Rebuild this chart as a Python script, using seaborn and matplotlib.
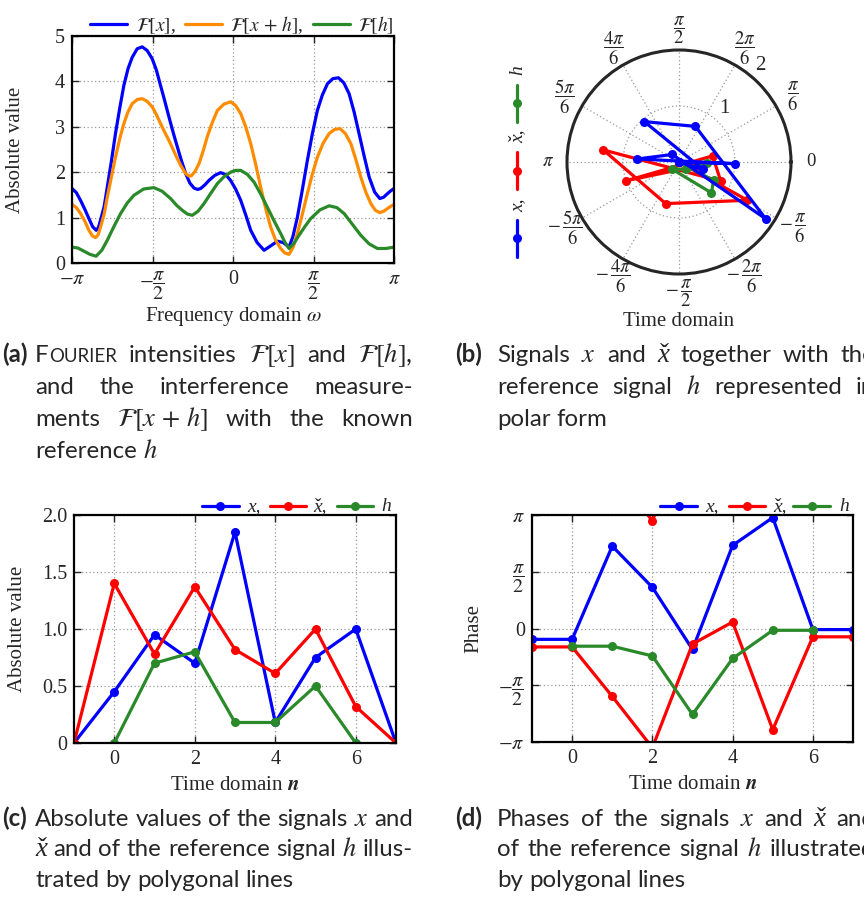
import numpy as np
import matplotlib
matplotlib.use("Agg")
import matplotlib.pyplot as plt
import seaborn as sns
from matplotlib.lines import Line2D

sns.set_style("ticks")
plt.rcParams["font.family"] = ["Liberation Serif", "DejaVu Serif"]
plt.rcParams["mathtext.fontset"] = "stix"

# ---------------- data ----------------
# (a) Fourier intensities, frequency given as multiples of pi
omega_x_pi = [-1.0, -0.973, -0.947, -0.92, -0.895, -0.872, -0.850, -0.836, -0.823, -0.80,
              -0.781, -0.755, -0.730, -0.704, -0.678, -0.652, -0.626, -0.595, -0.564, -0.533,
              -0.502, -0.476, -0.450, -0.424, -0.398, -0.372, -0.346, -0.320, -0.294, -0.268,
              -0.242, -0.220, -0.201, -0.175, -0.149, -0.113, -0.077, -0.046, -0.015, 0.016,
              0.048, 0.079, 0.110, 0.150, 0.193, 0.235, 0.276, 0.312, 0.348, 0.372,
              0.400, 0.431, 0.462, 0.493, 0.524, 0.555, 0.587, 0.620, 0.655, 0.688,
              0.721, 0.752, 0.783, 0.815, 0.846, 0.880, 0.912, 0.936, 0.960, 0.980, 1.0]
F_x = [1.64, 1.55, 1.38, 1.18, 0.98, 0.80, 0.72, 0.78, 0.94, 1.25,
       1.67, 2.25, 2.85, 3.40, 3.91, 4.28, 4.53, 4.72, 4.76, 4.68,
       4.50, 4.25, 3.91, 3.57, 3.22, 2.88, 2.56, 2.25, 1.97, 1.76,
       1.65, 1.62, 1.64, 1.72, 1.82, 1.93, 1.99, 1.95, 1.82, 1.63,
       1.38, 1.06, 0.72, 0.45, 0.28, 0.38, 0.48, 0.45, 0.35, 0.58,
       1.01, 1.62, 2.26, 2.85, 3.36, 3.70, 3.95, 4.06, 4.08, 3.97,
       3.73, 3.33, 2.85, 2.35, 1.89, 1.56, 1.42, 1.45, 1.53, 1.59, 1.64]
omega_xh_pi = [-1.0, -0.973, -0.947, -0.92, -0.895, -0.874, -0.854, -0.838, -0.823, -0.80,
               -0.781, -0.755, -0.730, -0.704, -0.678, -0.652, -0.626, -0.595, -0.564, -0.533,
               -0.502, -0.476, -0.450, -0.424, -0.398, -0.372, -0.346, -0.320, -0.294, -0.276,
               -0.259, -0.235, -0.211, -0.185, -0.160, -0.128, -0.097, -0.056, -0.015, 0.016,
               0.048, 0.079, 0.110, 0.141, 0.172, 0.203, 0.234, 0.265, 0.296, 0.322,
               0.348, 0.374, 0.400, 0.431, 0.462, 0.493, 0.524, 0.560, 0.597, 0.630,
               0.665, 0.698, 0.732, 0.763, 0.794, 0.825, 0.856, 0.884, 0.912, 0.936,
               0.960, 0.980, 1.0]
F_xh = [1.29, 1.22, 1.09, 0.92, 0.72, 0.60, 0.56, 0.62, 0.79, 1.08,
        1.45, 1.90, 2.33, 2.73, 3.07, 3.33, 3.51, 3.60, 3.62, 3.56,
        3.44, 3.27, 3.07, 2.88, 2.70, 2.50, 2.30, 2.12, 1.97, 1.92,
        1.92, 2.02, 2.19, 2.47, 2.78, 3.10, 3.36, 3.50, 3.55, 3.47,
        3.29, 3.00, 2.63, 2.17, 1.67, 1.20, 0.79, 0.50, 0.32, 0.22,
        0.19, 0.35, 0.65, 1.08, 1.53, 1.96, 2.33, 2.64, 2.85, 2.94,
        2.96, 2.85, 2.63, 2.28, 1.89, 1.56, 1.31, 1.16, 1.11, 1.14,
        1.20, 1.25, 1.29]
omega_h_pi = [-1.0, -0.963, -0.926, -0.888, -0.850, -0.815, -0.781, -0.740, -0.698, -0.657,
              -0.616, -0.555, -0.491, -0.440, -0.388, -0.350, -0.315, -0.284, -0.253, -0.217,
              -0.180, -0.139, -0.097, -0.056, -0.015, 0.016, 0.048, 0.090, 0.131, 0.172,
              0.213, 0.255, 0.296, 0.322, 0.348, 0.378, 0.410, 0.446, 0.483, 0.540,
              0.597, 0.645, 0.690, 0.742, 0.794, 0.846, 0.897, 0.950, 1.0]
F_h = [0.35, 0.33, 0.26, 0.19, 0.15, 0.28, 0.50, 0.80, 1.09, 1.32,
       1.49, 1.63, 1.66, 1.58, 1.42, 1.27, 1.16, 1.08, 1.05, 1.14,
       1.31, 1.53, 1.75, 1.90, 2.00, 2.04, 2.04, 1.95, 1.78, 1.52,
       1.23, 0.93, 0.65, 0.46, 0.32, 0.43, 0.61, 0.80, 0.98, 1.17,
       1.26, 1.22, 1.09, 0.85, 0.61, 0.42, 0.32, 0.32, 0.35]

# time-domain signals
n_x = [-1, 0, 1, 2, 3, 4, 5, 6, 7]
abs_x = [0.0, 0.45, 0.95, 0.70, 1.85, 0.18, 0.75, 1.00, 0.0]
abs_xc = [0.0, 1.40, 0.78, 1.37, 0.82, 0.61, 1.00, 0.32, 0.0]
phase_x = [-0.30, -0.30, 2.28, 1.14, -0.58, 2.30, 3.07, -0.03, -0.03]
phase_xc = [-0.51, -0.51, -1.88, -3.30, -0.43, 0.18, -2.80, -0.23, -0.23]
n_h = [0, 1, 2, 3, 4, 5, 6]
abs_h = [0.0, 0.70, 0.80, 0.18, 0.18, 0.50, 0.0]
phase_h = [-0.49, -0.49, -0.76, -2.38, -0.83, -0.05, -0.05]

legend_labels_a = [r"$\mathcal{F}[x]$,", r"$\mathcal{F}[x\,+\,h]$,", r"$\mathcal{F}[h]$"]
# (text, has caron over the x)
legend_labels_sig = [("x,", False), ("x,", True), ("h", False)]
pi_ticks_lin = [r"$-\pi$", r"$-\dfrac{\pi}{2}$", "0", r"$\dfrac{\pi}{2}$", r"$\pi$"]
polar_tick_labels = ["0", r"$\dfrac{\pi}{6}$", r"$\dfrac{2\pi}{6}$", r"$\dfrac{\pi}{2}$",
                     r"$\dfrac{4\pi}{6}$", r"$\dfrac{5\pi}{6}$", r"$\pi$", r"$-\,\dfrac{5\pi}{6}$",
                     r"$-\,\dfrac{4\pi}{6}$", r"$-\,\dfrac{\pi}{2}$", r"$-\,\dfrac{2\pi}{6}$",
                     r"$-\,\dfrac{\pi}{6}$"]

BLUE = "#0000ff"
RED = "#ff0000"
ORANGE = "#ff8c00"
GREEN = "#2a8a2a"
SIG_COLORS = [BLUE, RED, GREEN]

W, H = 864, 900
fig = plt.figure(figsize=(W / 100, H / 100), dpi=100)
fig.patch.set_facecolor("white")
renderer = fig.canvas.get_renderer()


def ax_rect(l, t, r, b):
    return [l / W, 1 - b / H, (r - l) / W, (b - t) / H]


def fx(px):
    return px / W


def fy(py):
    return 1 - py / H


FS = 15
TFS = 14.5
LW = 2.3
MS = 6.5
GRID = dict(color="#9a9a9a", linestyle=(0, (1, 2)), linewidth=0.9)
SERIF = ["Liberation Serif", "DejaVu Serif"]
CARON = "\u02c7"


def text_width(s, **kw):
    t = fig.text(0, 0, s, **kw)
    w = t.get_window_extent(renderer).width
    t.remove()
    return w


def sig_label(x_px, yb_px, s, caron, fs=14, rotation=0):
    """italic serif label anchored at its left baseline (start of text)"""
    kw = dict(family=SERIF, style="italic", fontsize=fs)
    fig.text(fx(x_px), fy(yb_px), s, ha="left", va="baseline", rotation=rotation,
             rotation_mode="anchor", **kw)
    if caron:
        wx = text_width("x", **kw)
        if rotation == 0:
            cx, cy = x_px + 0.6 * wx, yb_px
        else:
            cx, cy = x_px, yb_px - 0.6 * wx
        fig.text(fx(cx), fy(cy), CARON, ha="center", va="baseline", rotation=rotation,
                 rotation_mode="anchor", family=SERIF, fontsize=fs)


def style_cart(ax):
    ax.grid(True, **GRID)
    ax.tick_params(direction="in", length=5, width=1.0, top=True, right=True,
                   labelsize=TFS, pad=5)
    for s in ax.spines.values():
        s.set_linewidth(1.6)
        s.set_color("black")


def manual_legend(y_px, line_x, text_x):
    for col, (x0, x1), tx, (lab, car) in zip(SIG_COLORS, line_x, text_x, legend_labels_sig):
        fig.add_artist(Line2D([fx(x0), fx(x1)], [fy(y_px), fy(y_px)], transform=fig.transFigure,
                              color=col, linewidth=LW))
        fig.add_artist(Line2D([fx((x0 + x1) / 2)], [fy(y_px)], transform=fig.transFigure,
                              color=col, marker="o", markersize=MS, markeredgewidth=0,
                              linestyle="none"))
        sig_label(tx, y_px + 5, lab, car)


# ---------------- (a) ----------------
ax_a = fig.add_axes(ax_rect(72, 36, 394, 263))
for om, F, col, lab in [(omega_x_pi, F_x, BLUE, legend_labels_a[0]),
                        (omega_xh_pi, F_xh, ORANGE, legend_labels_a[1]),
                        (omega_h_pi, F_h, GREEN, legend_labels_a[2])]:
    sns.lineplot(x=np.array(om) * np.pi, y=F, ax=ax_a, color=col, linewidth=LW,
                 estimator=None, sort=False, label=lab)
ax_a.set_xlim(-np.pi, np.pi)
ax_a.set_ylim(0, 5)
ax_a.set_xticks([-np.pi, -np.pi / 2, 0, np.pi / 2, np.pi])
ax_a.set_xticklabels(pi_ticks_lin)
ax_a.set_yticks(range(6))
style_cart(ax_a)
ax_a.set_xlabel(r"Frequency domain $\omega$", fontsize=FS)
ax_a.set_ylabel("Absolute value", fontsize=FS)
ax_a.xaxis.set_label_coords(0.5, -0.185)
ax_a.yaxis.set_label_coords(-0.146, 0.5)
ax_a.legend(loc="lower right", bbox_to_anchor=(1.0, 1.0), ncol=3, frameon=False,
            handlelength=1.9, columnspacing=0.45, handletextpad=0.45,
            borderaxespad=0.0, borderpad=0.0, fontsize=14)

# ---------------- (c) ----------------
ax_c = fig.add_axes(ax_rect(74, 515, 396, 743))
mk = dict(marker="o", markersize=MS, markeredgewidth=0, linewidth=LW, estimator=None,
          sort=False, legend=False)
sns.lineplot(x=n_x, y=abs_x, ax=ax_c, color=BLUE, **mk)
sns.lineplot(x=n_x, y=abs_xc, ax=ax_c, color=RED, **mk)
sns.lineplot(x=n_h, y=abs_h, ax=ax_c, color=GREEN, **mk)
ax_c.set_xlim(-1, 7)
ax_c.set_ylim(0, 2)
ax_c.set_xticks([0, 2, 4, 6])
ax_c.set_yticks([0, 0.5, 1.0, 1.5, 2.0])
ax_c.set_yticklabels(["0", "0.5", "1.0", "1.5", "2.0"])
style_cart(ax_c)
ax_c.set_xlabel(r"Time domain $\mathbfit{n}$", fontsize=FS)
ax_c.set_ylabel("Absolute value", fontsize=FS)
ax_c.xaxis.set_label_coords(0.5, -0.145)
ax_c.yaxis.set_label_coords(-0.146, 0.5)
manual_legend(506, [(202, 239), (270, 306), (337, 373)], [247, 313, 381])

# ---------------- (d) ----------------
ax_d = fig.add_axes(ax_rect(532, 515, 853, 742))
sns.lineplot(x=n_x, y=phase_x, ax=ax_d, color=BLUE, **mk)
sns.lineplot(x=n_x, y=phase_xc, ax=ax_d, color=RED, **mk)
sns.lineplot(x=n_x, y=np.array(phase_xc) + 2 * np.pi, ax=ax_d, color=RED, **mk)
sns.lineplot(x=n_h, y=phase_h, ax=ax_d, color=GREEN, **mk)
ax_d.set_xlim(-1, 7)
ax_d.set_ylim(-np.pi, np.pi)
ax_d.set_xticks([0, 2, 4, 6])
ax_d.set_yticks([-np.pi, -np.pi / 2, 0, np.pi / 2, np.pi])
ax_d.set_yticklabels(pi_ticks_lin)
style_cart(ax_d)
ax_d.set_xlabel(r"Time domain $\mathbfit{n}$", fontsize=FS)
ax_d.set_ylabel("Phase", fontsize=FS)
ax_d.xaxis.set_label_coords(0.5, -0.145)
ax_d.yaxis.set_label_coords(-0.153, 0.5)
manual_legend(506, [(660, 697), (729, 765), (793, 830)], [705, 773, 839])

# ---------------- (b) polar ----------------
ax_b = fig.add_axes(ax_rect(567, 50, 791, 274), projection="polar")
pk = dict(marker="o", markersize=MS, markeredgewidth=0, linewidth=LW)
ax_b.plot(phase_xc, abs_xc, color=RED, **pk)
ax_b.plot(phase_h, abs_h, color=GREEN, **pk)
ax_b.plot(phase_x, abs_x, color=BLUE, **pk)
ax_b.set_ylim(0, 2)
ax_b.set_yticks([1])
ax_b.set_yticklabels([])
ax_b.set_xticks(np.deg2rad(np.arange(0, 360, 30)))
ax_b.set_xticklabels(polar_tick_labels, fontsize=13.5)
ax_b.grid(True, **GRID)
ax_b.spines["polar"].set_linewidth(2.2)
ax_b.tick_params(axis="x", direction="inout", length=10, width=1.4, color="black", pad=2)
ax_b.text(np.deg2rad(50), 1.25, "1", ha="center", va="center", fontsize=FS)
ax_b.text(np.deg2rad(50), 2.26, "2", ha="center", va="center", fontsize=FS)
fig.text(fx(679), fy(321), "Time domain", ha="center", va="center", fontsize=FS)

# vertical legend of the polar plot
legx = 517
for col, (y0, y1, ym), (lab, car), ly in zip(
        SIG_COLORS, [(220, 257, 238), (152, 189, 171), (85, 122, 103)],
        legend_labels_sig, [212, 143, 75]):
    fig.add_artist(Line2D([fx(legx), fx(legx)], [fy(y0), fy(y1)], transform=fig.transFigure,
                          color=col, linewidth=LW))
    fig.add_artist(Line2D([fx(legx)], [fy(ym)], transform=fig.transFigure, color=col,
                          marker="o", markersize=MS, markeredgewidth=0, linestyle="none"))
    sig_label(legx + 5, ly, lab, car, rotation=90)

# ---------------- captions ----------------
CAP_FONT = ["Lato", "DejaVu Sans"]


def make_runs(tok, fs, yb):
    """returns list of (artist, caron_flag)"""
    if tok.startswith("SC:"):
        w = tok[3:]
        specs = [(w[0], dict(fontsize=fs, family=CAP_FONT), False),
                 (w[1:].upper(), dict(fontsize=fs * 0.78, family=CAP_FONT), False)]
    elif tok.startswith("XC:"):
        specs = [("x", dict(fontsize=fs * 1.12, family=SERIF, style="italic"), True)]
        if len(tok) > 3:
            specs.append((tok[3:], dict(fontsize=fs, family=CAP_FONT), False))
    elif tok.startswith("$"):
        specs = [(tok, dict(fontsize=fs * 1.1, family=CAP_FONT), False)]
    else:
        specs = [(tok, dict(fontsize=fs, family=CAP_FONT), False)]
    return [(fig.text(0, fy(yb), txt, va="baseline", ha="left", **kw), car)
            for txt, kw, car in specs]


def natural_width(line, fs):
    arts = [make_runs(t, fs, 0) for t in line.split(" ")]
    w = sum(a.get_window_extent(renderer).width for ar in arts for a, _ in ar)
    for ar in arts:
        for a, _ in ar:
            a.remove()
    return w + 0.25 * fs * 100 / 72 * (len(arts) - 1)


def caption(label, lines, xlab, x0, width, baselines, fs, justify):
    fig.text(fx(xlab), fy(baselines[0]), label, fontsize=fs, fontweight="bold",
             family=CAP_FONT, va="baseline", ha="left")
    for line, yb, jf in zip(lines, baselines, justify):
        words = [make_runs(tok, fs, yb) for tok in line.split(" ")]
        wids = [[a.get_window_extent(renderer).width for a, _ in arts] for arts in words]
        tot = sum(sum(w) for w in wids)
        if jf and len(words) > 1:
            gap = (width - tot) / (len(words) - 1)
        else:
            gap = 0.25 * fs * 100 / 72
        x = x0
        for arts, ws in zip(words, wids):
            for (a, car), wv in zip(arts, ws):
                a.set_x(fx(x))
                if car:
                    fig.text(fx(x + 0.6 * wv), fy(yb), CARON, ha="center", va="baseline",
                             family=SERIF, fontsize=fs * 1.12)
                x += wv
            x += gap


cap_c1 = "Absolute values of the signals $x$ and"
CFS = 10 * 378 / natural_width(cap_c1, 10)

caption("(a)", ["SC:Fourier intensities $\\mathcal{F}[x]$ and $\\mathcal{F}[h]$,",
                "and the interference measure-",
                "ments $\\mathcal{F}[x\\,+\\,h]$ with the known",
                "reference $h$"],
        2, 35, 378, [362, 394, 426, 458], CFS, [True, True, True, False])
caption("(b)", ["Signals $x$ and XC: together with the",
                "reference signal $h$ represented in",
                "polar form"],
        455, 497, 378, [362, 394, 426], CFS, [True, True, False])
caption("(c)", [cap_c1,
                "XC: and of the reference signal $h$ illus-",
                "trated by polygonal lines"],
        2, 35, 378, [826, 856, 887], CFS, [True, True, False])
caption("(d)", ["Phases of the signals $x$ and XC: and",
                "of the reference signal $h$ illustrated",
                "by polygonal lines"],
        455, 497, 378, [826, 856, 887], CFS, [True, True, False])

fig.savefig("out.png", dpi=100, facecolor="white")
